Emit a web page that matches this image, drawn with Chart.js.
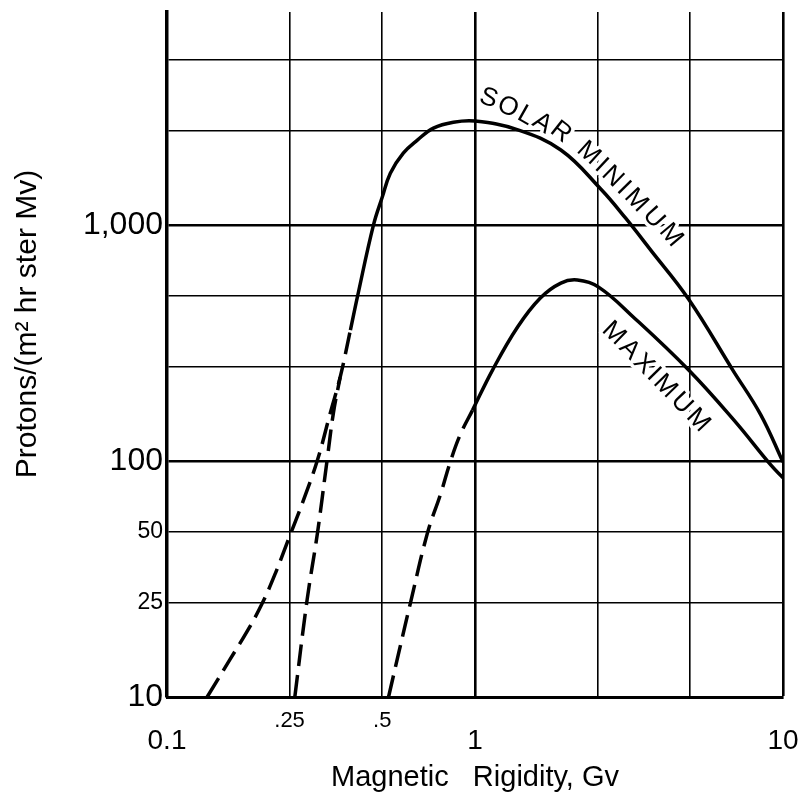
<!DOCTYPE html>
<html>
<head>
<meta charset="utf-8">
<script src="https://cdn.jsdelivr.net/npm/chart.js@4"></script>
<style>
  html, body { margin: 0; padding: 0; background: #fff; }
  #wrap { width: 799px; height: 798px; }
  canvas { background: #fff; }
</style>
</head>
<body>
<div id="wrap"><canvas id="grafico" width="799" height="798"></canvas></div>
<script>
// rigidity in GV, flux in protons per m2 hr ster Mv

// solar minimum: dashed low end, then the solid curve
const minDashX = [0.135, 0.16, 0.183, 0.204, 0.225, 0.247, 0.277, 0.308, 0.339, 0.365];
const minDashY = [10, 14.4, 19.2, 25, 33.5, 46, 68, 101, 160, 227];
const minSolidX = [0.394, 0.415, 0.468, 0.5, 0.531, 0.585, 0.65, 0.733, 0.851, 1.0, 1.37, 1.9, 2.56, 3.08, 3.72, 4.94, 6.87, 8.47, 10];
const minSolidY = [359, 495, 1000, 1315, 1660, 2018, 2291, 2577, 2729, 2760, 2540, 2080, 1422, 1072, 783, 485, 243, 157, 99];

// second dashed branch (the steep one) joining the minimum curve
const steepDashX = [0.26, 0.285, 0.308, 0.331, 0.347, 0.365];
const steepDashY = [10, 25.8, 49.6, 101, 160, 227];

// solar maximum: dashed low end, then the solid curve
const maxDashX = [0.524, 0.568, 0.617, 0.701, 0.773, 0.833, 0.897];
const maxDashY = [10, 15.8, 25, 49.6, 72.4, 100, 130];
const maxSolidX = [0.981, 1.14, 1.375, 1.63, 1.9, 2.15, 2.52, 3.27, 4.94, 6.93, 9.14, 10];
const maxSolidY = [164, 243, 370, 491, 568, 585, 546, 407, 243, 149, 96, 85];

// axes
const xGrid = [0.1, 0.25, 0.5, 1, 2.5, 5, 10];
const xLabels = ["0.1", ".25", ".5", "1", "", "", "10"];
const yGrid = [10, 25, 50, 100, 250, 500, 1000, 2500, 5000];
const yLabels = ["10", "25", "50", "100", "", "", "1,000", "", ""];

const curveLabels = [
  { text: "SOLAR", from: [1.107, 3450], to: [1.9, 2477], ang: [20, 38] },
  { text: "MINIMUM", from: [2.34, 2018], to: [4.33, 907], ang: [42, 50] },
  { text: "MAXIMUM", from: [2.82, 348], to: [5.3, 149], ang: [44, 47] },
];

const FONT = '"Liberation Sans", Arial, sans-serif';
const TRACO = [22, 9];

function pontos(xs, ys) {
  return xs.map((x, i) => ({ x: x, y: ys[i] }));
}

// one line; segments before index "corte" are dashed
function serie(xs, ys, corte) {
  return {
    data: pontos(xs, ys),
    borderColor: "#000",
    borderWidth: 3.5,
    pointRadius: 0,
    tension: 0.4,
    fill: false,
    segment: {
      borderDash: (c) => (c.p0DataIndex < corte ? TRACO : []),
    },
  };
}

const textos = {
  id: "textos",
  beforeDatasetsDraw(chart) {
    const { ctx, scales } = chart;
    ctx.save();
    ctx.font = "26px " + FONT;
    ctx.textAlign = "center";
    ctx.textBaseline = "middle";
    ctx.lineJoin = "round";
    const letras = [];
    curveLabels.forEach((lab) => {
      const x0 = scales.x.getPixelForValue(lab.from[0]);
      const y0 = scales.y.getPixelForValue(lab.from[1]);
      const x1 = scales.x.getPixelForValue(lab.to[0]);
      const y1 = scales.y.getPixelForValue(lab.to[1]);
      const chars = lab.text.split("");
      let acc = 0;
      const centros = chars.map((c) => {
        const w = ctx.measureText(c).width;
        const m = acc + w / 2;
        acc += w;
        return m;
      });
      const span = centros[centros.length - 1] - centros[0];
      chars.forEach((c, i) => {
        const t = (centros[i] - centros[0]) / span;
        letras.push({
          c: c,
          x: x0 + (x1 - x0) * t,
          y: y0 + (y1 - y0) * t,
          a: ((lab.ang[0] + (lab.ang[1] - lab.ang[0]) * t) * Math.PI) / 180,
        });
      });
    });
    // white halo first so the grid is broken behind the lettering
    letras.forEach((l) => {
      ctx.save();
      ctx.translate(l.x, l.y);
      ctx.rotate(l.a);
      ctx.strokeStyle = "#fff";
      ctx.lineWidth = 7;
      ctx.strokeText(l.c, 0, 0);
      ctx.restore();
    });
    letras.forEach((l) => {
      ctx.save();
      ctx.translate(l.x, l.y);
      ctx.rotate(l.a);
      ctx.fillStyle = "#000";
      ctx.fillText(l.c, 0, 0);
      ctx.restore();
    });
    ctx.restore();
  },
  afterDraw(chart) {
    const ctx = chart.ctx;
    ctx.save();
    ctx.translate(28, 324);
    ctx.rotate(-Math.PI / 2);
    ctx.font = "30px " + FONT;
    ctx.fillStyle = "#000";
    ctx.textAlign = "center";
    ctx.textBaseline = "middle";
    ctx.fillText("Protons/(m\u00B2 hr ster Mv)", 0, 0);
    ctx.restore();
  },
};

const grafico = new Chart(document.getElementById("grafico"), {
  type: "line",
  data: {
    datasets: [
      serie(minDashX.concat(minSolidX), minDashY.concat(minSolidY), minDashX.length),
      serie(steepDashX, steepDashY, steepDashX.length),
      serie(maxDashX.concat(maxSolidX), maxDashY.concat(maxSolidY), maxDashX.length),
    ],
  },
  options: {
    responsive: false,
    animation: false,
    layout: { padding: { top: 12, right: 16, bottom: 0, left: 0 } },
    plugins: {
      legend: { display: false },
      tooltip: { enabled: false },
    },
    scales: {
      x: {
        type: "logarithmic",
        min: 0.1,
        max: 10,
        afterBuildTicks: (scale) => {
          scale.ticks = xGrid.map((v) => ({ value: v }));
        },
        afterFit: (scale) => {
          scale.height = 101;
          scale.paddingLeft = 0;
          scale.paddingRight = 0;
        },
        ticks: {
          autoSkip: false,
          maxRotation: 0,
          padding: 11,
          color: "#000",
          callback: (v) => xLabels[xGrid.indexOf(v)],
          font: (c) => {
            const v = c.tick ? c.tick.value : 1;
            if (v === 0.25 || v === 0.5) return { family: FONT, size: 22, lineHeight: 1.2 };
            if (v === 2.5 || v === 5) return { family: FONT, size: 8, lineHeight: 1 };
            return { family: FONT, size: 28, lineHeight: 2.4 };
          },
        },
        grid: {
          color: "#000",
          drawTicks: false,
          lineWidth: (c) => {
            const v = c.tick ? c.tick.value : 0;
            return v === 1 || v === 10 ? 2.6 : 1.6;
          },
        },
        border: { display: true, color: "#000", width: 3 },
        title: {
          display: true,
          text: "Magnetic   Rigidity, Gv",
          color: "#000",
          font: { family: FONT, size: 29 },
          padding: { top: 0, bottom: 3 },
        },
      },
      y: {
        type: "logarithmic",
        min: 10,
        max: 8000,
        afterBuildTicks: (scale) => {
          scale.ticks = yGrid.map((v) => ({ value: v }));
        },
        afterFit: (scale) => {
          scale.width = 167;
        },
        ticks: {
          autoSkip: false,
          padding: 4,
          color: "#000",
          callback: (v) => yLabels[yGrid.indexOf(v)],
          font: (c) => {
            const v = c.tick ? c.tick.value : 10;
            if (v === 25 || v === 50) return { family: FONT, size: 23 };
            if (v === 10 || v === 100 || v === 1000) return { family: FONT, size: 32 };
            return { family: FONT, size: 8 };
          },
        },
        grid: {
          color: "#000",
          drawTicks: false,
          lineWidth: (c) => {
            const v = c.tick ? c.tick.value : 0;
            return v === 100 || v === 1000 ? 2.6 : 1.6;
          },
        },
        border: { display: true, color: "#000", width: 3.5 },
      },
    },
  },
  plugins: [textos],
});
</script>
</body>
</html>
